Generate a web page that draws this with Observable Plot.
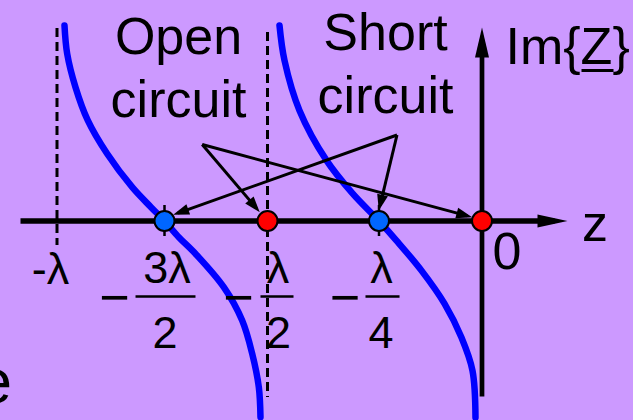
<!DOCTYPE html>
<html>
<head>
<meta charset="utf-8">
<script src="https://cdn.jsdelivr.net/npm/d3@7"></script>
<script src="https://cdn.jsdelivr.net/npm/@observablehq/plot@0.6"></script>
<style>
  html, body { margin: 0; padding: 0; background: #cc99ff; overflow: hidden; }
  #chart svg { display: block; }
</style>
</head>
<body>
<div id="chart"></div>
<script>
// Im{Z} seen along a lossless line; z in wavelengths, load end at z = 0.
// Branch between -λ and -λ/2
const farZ  = [-0.9826, -0.9763, -0.9570, -0.9284, -0.8833, -0.8251, -0.7814, -0.75, -0.7153, -0.6748, -0.6061, -0.5614, -0.5371, -0.5211, -0.5170];
const farIm = [9.78, 8.36, 6.69, 5.03, 3.36, 1.69, 0.69, 0, -0.81, -1.64, -3.31, -4.98, -6.64, -8.31, -9.81];
// Branch between -λ/2 and 0
const nearZ  = [-0.4731, -0.4619, -0.4283, -0.3677, -0.3094, -0.25, -0.2075, -0.1468, -0.0910, -0.0498, -0.0231, -0.0158];
const nearIm = [9.78, 8.03, 5.53, 3.03, 1.38, 0, -0.98, -2.48, -4.13, -5.83, -7.48, -9.83];

// Points where the line behaves like a short or an open circuit
const specialZ    = [-0.75, -0.5, -0.25, 0];
const specialKind = ["short", "open", "short", "open"];

// Asymptotes (dashed) and minor ticks
const asymptoteZ = [-1, -0.5];
const asymptoteTop = [9.625, 9.425];
const asymptoteBottom = [-1.225, -8.825];
const minorTickZ = [-0.75, -0.25];

// Tick labels on the z axis
const fracNum = ["3λ", "λ", "λ"];
const fracDen = ["2", "2", "4"];

// Placement of the tick-label pieces (z in λ, Im in plot units)
const fracNumX   = [-0.7439, -0.4765, -0.2439];
const fracDenX   = [-0.7488, -0.4753, -0.2451];
const fracMinusX = [-0.8663, -0.5704, -0.3262];
const fracBarX1  = [-0.8174, -0.5170, -0.2803];
const fracBarX2  = [-0.6748, -0.4417, -0.2002];

// Callout arrows: two labels, each pointing at two points
const calloutText  = ["Open\ncircuit", "Short\ncircuit"];
const calloutX     = [-0.716, -0.2342];
const calloutY     = [5.225, 5.425];
const arrowFromX   = [-0.6585, -0.6585, -0.2063, -0.2063];
const arrowFromY   = [3.825, 3.825, 4.3, 4.3];
const arrowToX     = [-0.5266, -0.0355, -0.7175, -0.2476];
const arrowToY     = [0.63, 0.255, 0.394, 0.768];

const font = "Liberation Sans, Arial, Helvetica, sans-serif";
const blue = "#0000ff";

const far = farZ.map((z, i) => ({z, im: farIm[i]}));
const near = nearZ.map((z, i) => ({z, im: nearIm[i]}));
const points = specialZ.map((z, i) => ({z, kind: specialKind[i]}));
const asymptotes = asymptoteZ.map((z, i) => ({z, top: asymptoteTop[i], bottom: asymptoteBottom[i]}));
const arrows = arrowFromX.map((x, i) => ({x1: x, y1: arrowFromY[i], x2: arrowToX[i], y2: arrowToY[i]}));
const fractions = fracNum.map((num, i) => ({
  num, den: fracDen[i], numX: fracNumX[i], denX: fracDenX[i],
  minusX: fracMinusX[i], barX1: fracBarX1[i], barX2: fracBarX2[i]
}));
const callouts = calloutText.map((text, i) => ({text, x: calloutX[i], y: calloutY[i]}));

// Filled triangular arrowhead; the tip sits `overshoot` px past the path end
function filledHead(len, half, overshoot) {
  return (color) => {
    const m = d3.create("svg:marker")
      .attr("viewBox", "-50 -25 100 50")
      .attr("markerWidth", 100)
      .attr("markerHeight", 50)
      .attr("refX", 0)
      .attr("refY", 0)
      .attr("markerUnits", "userSpaceOnUse")
      .attr("orient", "auto")
      .attr("overflow", "visible");
    m.append("path")
      .attr("d", `M${overshoot - len},${-half}L${overshoot},0L${overshoot - len},${half}Z`)
      .attr("fill", color)
      .attr("stroke", "none");
    return m.node();
  };
}

const chart = Plot.plot({
  width: 633,
  height: 420,
  margin: 0,
  style: {background: "#cc99ff", fontFamily: font, overflow: "hidden"},
  x: {type: "linear", domain: [-1, -0.75, -0.5, -0.25, 0], range: [56.5, 164, 267, 378.5, 481.5], axis: null},
  y: {domain: [-10, 10], range: [420.5, 20.5], axis: null},
  color: {domain: ["short", "open"], range: ["#0066ff", "#ff0000"]},
  marks: [
    // dashed asymptotes
    Plot.ruleX(asymptotes, {x: "z", y1: "top", y2: "bottom", stroke: "black", strokeWidth: 3, strokeDasharray: "9,5"}),
    // Im{Z} branches
    Plot.line(far, {x: "z", y: "im", stroke: blue, strokeWidth: 6.5, curve: "catmull-rom"}),
    Plot.line(near, {x: "z", y: "im", stroke: blue, strokeWidth: 6.5, curve: "catmull-rom"}),
    // z axis and Im{Z} axis with arrowheads
    Plot.link([{x1: -1.0849, x2: 0.176, y: 0}], {x1: "x1", x2: "x2", y1: "y", y2: "y", stroke: "black", strokeWidth: 5.5, markerEnd: filledHead(30, 6.5, 13)}),
    Plot.link([{x: 0, y1: -8.775, y2: 9.025}], {x1: "x", x2: "x", y1: "y1", y2: "y2", stroke: "black", strokeWidth: 4.7, markerEnd: filledHead(30, 7, 13)}),
    // minor ticks
    Plot.ruleX(minorTickZ, {x: (d) => d, y1: 0.775, y2: -0.775, stroke: "black", strokeWidth: 2.5}),
    // callout arrows
    Plot.link(arrows, {x1: "x1", y1: "y1", x2: "x2", y2: "y2", stroke: "black", strokeWidth: 3, markerEnd: filledHead(16, 5.5, 5)}),
    // short / open points
    Plot.dot(points, {x: "z", y: 0, r: 10, fill: "kind", stroke: "black", strokeWidth: 2}),
    // callout labels
    Plot.text(callouts, {x: "x", y: "y", text: "text", fontSize: 52, lineHeight: 1.21, lineAnchor: "bottom", textAnchor: "middle", fill: "black", fontFamily: font}),
    // axis titles
    Plot.text(["Im{Z}"], {x: 0.057, y: 7.875, text: (d) => d, fontSize: 52, lineAnchor: "bottom", textAnchor: "start", fill: "black", fontFamily: font}),
    Plot.link([{x1: 0.2415, x2: 0.3192, y: 7.525}], {x1: "x1", x2: "x2", y1: "y", y2: "y", stroke: "black", strokeWidth: 3}),
    Plot.text(["z"], {x: 0.2743, y: -0.975, text: (d) => d, fontSize: 52, lineAnchor: "bottom", textAnchor: "middle", fill: "black", fontFamily: font}),
    // tick labels
    Plot.text(["0"], {x: 0.0607, y: -2.375, text: (d) => d, fontSize: 52, lineAnchor: "bottom", textAnchor: "middle", fill: "black", fontFamily: font}),
    Plot.text(["-λ"], {x: -1.0151, y: -3.125, text: (d) => d, fontSize: 45, lineAnchor: "bottom", textAnchor: "middle", fill: "black", fontFamily: font}),
    Plot.text(fractions, {x: "numX", y: -3.1, text: "num", fontSize: 45, lineAnchor: "bottom", textAnchor: "middle", fill: "black", fontFamily: font}),
    Plot.text(fractions, {x: "denX", y: -6.325, text: "den", fontSize: 45, lineAnchor: "bottom", textAnchor: "middle", fill: "black", fontFamily: font}),
    Plot.text(fractions, {x: "minusX", y: -4.7, text: () => "−", fontSize: 52, lineAnchor: "bottom", textAnchor: "middle", fill: "black", fontFamily: font}),
    Plot.link(fractions, {x1: "barX1", x2: "barX2", y1: -3.775, y2: -3.775, stroke: "black", strokeWidth: 2.5}),
    // edge of a neighbouring word
    Plot.text(["e"], {x: -1.1047, y: -9.075, text: (d) => d, fontSize: 63, lineAnchor: "bottom", textAnchor: "end", fill: "black", fontFamily: font})
  ]
});

document.getElementById("chart").append(chart);
</script>
</body>
</html>
